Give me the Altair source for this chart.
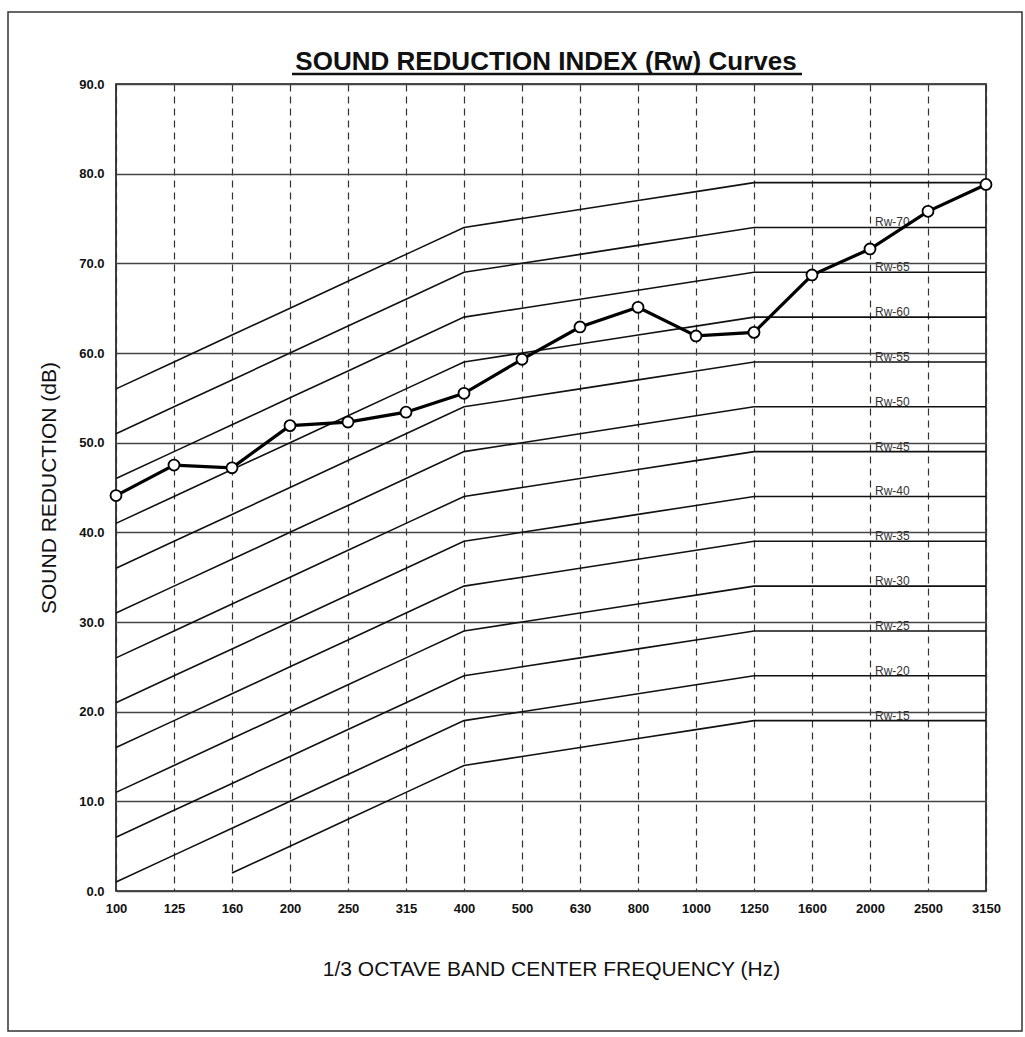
import altair as alt
import pandas as pd

# ---- data ----
FREQS = ["100", "125", "160", "200", "250", "315", "400", "500",
         "630", "800", "1000", "1250", "1600", "2000", "2500", "3150"]
# shape of the reference (Rw) curve relative to its Rw value, per band
REF_OFFSETS = [-19, -16, -13, -10, -7, -4, -1, 0, 1, 2, 3, 4, 4, 4, 4, 4]
RW_LEVELS = [15, 20, 25, 30, 35, 40, 45, 50, 55, 60, 65, 70, 75]
LABELED_LEVELS = [15, 20, 25, 30, 35, 40, 45, 50, 55, 60, 65, 70]
LABEL_FREQ = "2000"
MEASURED = [44.1, 47.5, 47.2, 51.9, 52.3, 53.4, 55.5, 59.3,
            62.9, 65.1, 61.9, 62.3, 68.7, 71.6, 75.8, 78.8]
Y_TICKS = [0, 10, 20, 30, 40, 50, 60, 70, 80, 90]
TITLE = "SOUND REDUCTION INDEX (Rw) Curves"

FONT = "Liberation Sans, Arial, Helvetica, sans-serif"

# ---- tables ----
curve_rows = []
for lvl in RW_LEVELS:
    for f, off in zip(FREQS, REF_OFFSETS):
        v = lvl + off
        if v >= 0:
            curve_rows.append({"freq": f, "db": v, "rw": lvl})
curves_df = pd.DataFrame(curve_rows)

label_idx = FREQS.index(LABEL_FREQ)
labels_df = pd.DataFrame({
    "freq": [LABEL_FREQ] * len(LABELED_LEVELS),
    "db": [lvl + REF_OFFSETS[label_idx] for lvl in LABELED_LEVELS],
    "txt": [f"Rw-{lvl}" for lvl in LABELED_LEVELS],
})

meas_df = pd.DataFrame({"freq": FREQS, "db": MEASURED})

xscale = alt.Scale(type="point", padding=0)
yscale = alt.Scale(domain=[0, 90], nice=False, zero=True)

x_axis = alt.Axis(
    title="1/3 OCTAVE BAND CENTER FREQUENCY (Hz)",
    labelAngle=0, labelFontSize=13, labelFontWeight="bold", labelColor="#111",
    labelFont=FONT, labelPadding=11, ticks=False, domain=False,
    grid=True, gridDash=[7, 5], gridColor="#333", gridWidth=1.2,
    titleFontSize=21, titleFontWeight="normal", titleFont=FONT,
    titleColor="#111", titlePadding=43,
)
y_axis = alt.Axis(
    title="SOUND REDUCTION (dB)", values=Y_TICKS, format=".1f",
    labelFontSize=13, labelFontWeight="bold", labelColor="#111",
    labelFont=FONT, labelPadding=12, ticks=False, domain=False,
    grid=True, gridColor="#444", gridWidth=1.3,
    titleFontSize=21, titleFontWeight="normal", titleFont=FONT,
    titleColor="#111", titlePadding=19,
)

X = alt.X("freq:O", sort=FREQS, scale=xscale, axis=x_axis)
Xn = alt.X("freq:O", sort=FREQS, scale=xscale)
Y = alt.Y("db:Q", scale=yscale, axis=y_axis)
Yn = alt.Y("db:Q", scale=yscale)

curves = alt.Chart(curves_df).mark_line(
    color="#111", strokeWidth=1.6
).encode(x=X, y=Y, detail="rw:N")

labels = alt.Chart(labels_df).mark_text(
    align="left", baseline="alphabetic", dx=5, dy=-1,
    fontSize=12, font=FONT, color="#333"
).encode(x=Xn, y=Yn, text="txt:N")

meas_line = alt.Chart(meas_df).mark_line(
    color="#000", strokeWidth=3.2
).encode(x=Xn, y=Yn)

meas_pts = alt.Chart(meas_df).mark_point(
    shape="circle", size=120, filled=True, fill="white",
    stroke="black", strokeWidth=1.8, opacity=1
).encode(x=Xn, y=Yn)

deco = alt.Data(values=[{"t": TITLE}])
title_text = alt.Chart(deco).mark_text(
    align="center", baseline="alphabetic", fontSize=26, fontWeight="bold",
    font=FONT, color="#111"
).encode(x=alt.value(430), y=alt.value(-14), text="t:N")
underline = alt.Chart(deco).mark_rule(color="#111", strokeWidth=2.5).encode(
    x=alt.value(176), x2=alt.value(686), y=alt.value(-10)
)
page_border = alt.Chart(deco).mark_rect(
    filled=False, stroke="#333", strokeWidth=1.5
).encode(
    x=alt.value(-108), x2=alt.value(906), y=alt.value(-72), y2=alt.value(947)
)

chart = alt.layer(
    curves, labels, meas_line, meas_pts, title_text, underline, page_border
).properties(
    width=870, height=807,
    autosize=alt.AutoSizeParams(type="none"),
    padding={"left": 116, "top": 84, "right": 39, "bottom": 146},
    background="white",
).configure_view(stroke="#111", strokeWidth=1.6)

chart.save("out.html", embed_options={"renderer": "svg", "actions": False})
